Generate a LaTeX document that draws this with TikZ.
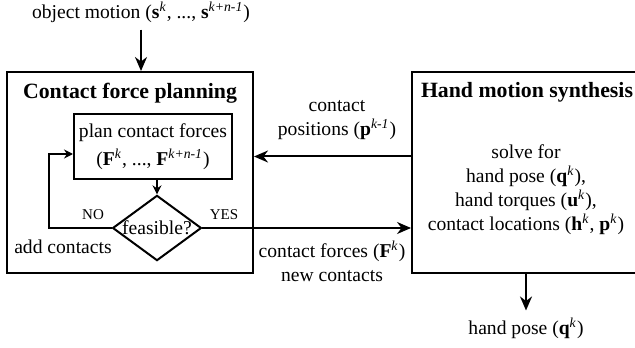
\documentclass[tikz,border=0pt]{standalone}
\usepackage{fontspec}
\setmainfont{Liberation Serif}
\usetikzlibrary{arrows.meta,shapes.geometric}

\newcommand{\bvec}[2]{\textbf{#1}\textsuperscript{\textit{#2}}}

\begin{document}
\begin{tikzpicture}[
    x=0.5pt, y=-0.5pt,
    every node/.style={font=\fontsize{9.8}{12}\selectfont},
    block/.style={draw, line width=1pt, rectangle, inner sep=0pt},
    title/.style={font=\fontsize{10.9}{13}\selectfont\bfseries},
    answer/.style={font=\fontsize{7.5}{9}\selectfont},
    arrow/.style={line width=1pt, -{Stealth[length=7pt,width=6pt]}},
    smallarrow/.style={line width=1pt, -{Stealth[length=4.5pt,width=4.5pt]}}
]
    \useasboundingbox (0,0) rectangle (635,347);
    \clip (0,0) rectangle (635,347);

    % Draw the two main blocks
    \node[block, minimum width=123pt, minimum height=100.5pt] (planning) at (130,172.5) {};
    \node[title] (planningtitle) at (130,93) {Contact force planning};
    \node[block, minimum width=114pt, minimum height=100pt] (synthesis) at (526,172.5) {};
    \node[title] (synthesistitle) at (527,92) {Hand motion synthesis};
    \node[align=center] (solve) at (526,190) {solve for\\hand pose (\bvec{q}{k}),\\hand torques (\bvec{u}{k}),\\contact locations (\bvec{h}{k}, \bvec{p}{k})};

    % Draw the planning loop
    \node[block, minimum width=79pt, minimum height=32.5pt, align=center] (plan) at (153,146.5) {plan contact forces\\[2pt](\bvec{F}{k}, ..., \bvec{F}{k+n-1})};
    \node[draw, diamond, line width=1pt, shape aspect=1.36, inner sep=0pt] (feasible) at (157,228) {feasible?};
    \coordinate (loop) at (49,228);
    \draw[smallarrow] (plan.south -| feasible.north) -- (feasible.north);
    \draw[smallarrow] (feasible.west) -- (loop) |- ([yshift=-3.75pt]plan.west);
    \node[answer] (no) at (93,215) {NO};
    \node[answer] (yes) at (224,215) {YES};
    \node (addcontacts) at (63,247) {add contacts};

    % Draw inputs and outputs
    \node (motion) at (141,12) {object motion (\bvec{s}{k}, ..., \bvec{s}{k+n-1})};
    \draw[arrow] (motion.south) -- (planning.north -| motion.south);
    \node (pose) at (526,328) {hand pose (\bvec{q}{k})};
    \draw[arrow] (synthesis.south) -- (pose.north);

    % Draw exchange between the blocks
    \draw[arrow] ([yshift=8pt]synthesis.west) -- ([yshift=8pt]planning.east);
    \node[align=center] (positions) at (337,120) {contact\\positions (\bvec{p}{k-1})};
    \draw[arrow] (feasible.east) -- (feasible.east -| synthesis.west);
    \node[align=center] (forces) at (332,261) {contact forces (\bvec{F}{k})\\new contacts};

\end{tikzpicture}
\end{document}
